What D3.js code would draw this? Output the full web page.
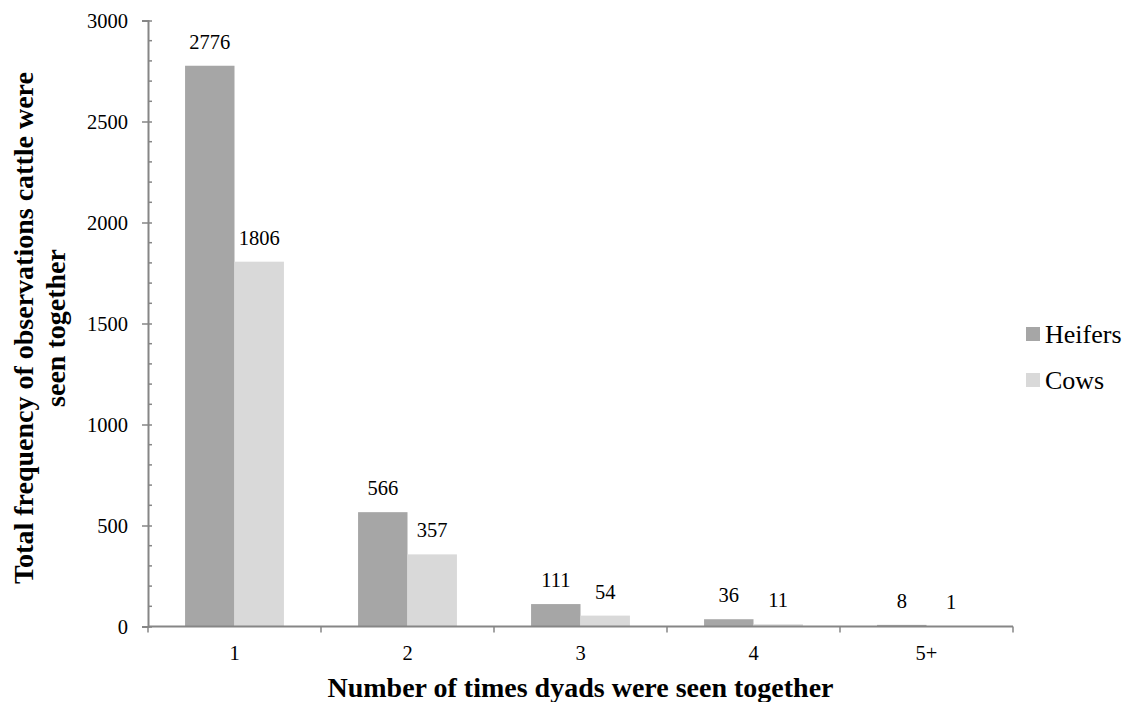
<!DOCTYPE html>
<html>
<head>
<meta charset="utf-8">
<script src="https://cdn.jsdelivr.net/npm/d3@7"></script>
<style>
  html, body { margin: 0; padding: 0; background: #fff; }
  svg text { font-family: "Liberation Serif", "Times New Roman", serif; }
</style>
</head>
<body>
<svg id="chart" width="1132" height="702"></svg>
<script>
const categories = ["1", "2", "3", "4", "5+"];
const seriesNames = ["Heifers", "Cows"];
const heifers = [2776, 566, 111, 36, 8];
const cows = [1806, 357, 54, 11, 1];
const yTicks = [0, 500, 1000, 1500, 2000, 2500, 3000];
const seriesColors = ["#a6a6a6", "#d9d9d9"];

(function () {
const FONT = "'Liberation Serif', 'Times New Roman', serif";
const seriesValues = [heifers, cows];
const svg = d3.select("#chart");
const plotLeft = 148, plotRight = 1013, plotTop = 20.5, plotBottom = 626.5;
const axisColor = "#868686";

const x0 = d3.scaleBand().domain(categories).range([plotLeft, plotRight]).padding(0);
const x1 = d3.scaleBand().domain(seriesNames).range([0, x0.bandwidth()])
  .paddingInner(0).paddingOuter(0.75);
const y = d3.scaleLinear().domain([0, 3000]).range([plotBottom, plotTop]);

// bars
const groups = svg.append("g").selectAll("g")
  .data(categories).join("g")
  .attr("transform", d => `translate(${x0(d)},0)`);

seriesNames.forEach((s, si) => {
  groups.append("rect")
    .attr("x", x1(s))
    .attr("width", x1.bandwidth())
    .attr("y", (d, i) => y(seriesValues[si][i]))
    .attr("height", (d, i) => plotBottom - y(seriesValues[si][i]))
    .attr("fill", seriesColors[si]);
  groups.append("text")
    .attr("x", x1(s) + x1.bandwidth() / 2)
    .attr("y", (d, i) => y(seriesValues[si][i]) - 17)
    .attr("text-anchor", "middle")
    .attr("font-family", FONT)
    .attr("font-size", 20.5)
    .attr("fill", "#000")
    .text((d, i) => seriesValues[si][i]);
});

// Y axis
const yAxis = svg.append("g").attr("transform", `translate(${plotLeft},0)`)
  .call(d3.axisLeft(y).tickValues(yTicks).tickFormat(d3.format("d")).tickSize(6).tickPadding(14));
yAxis.attr("font-family", FONT);
yAxis.select(".domain").attr("stroke", axisColor).attr("stroke-width", 2);
yAxis.selectAll(".tick line").attr("stroke", axisColor).attr("stroke-width", 1.5).attr("x2", -6).attr("x1", 4);
yAxis.selectAll(".tick text").attr("font-size", 20.5).attr("fill", "#000")
  .attr("font-family", FONT);
const minor = d3.range(0, 3001, 100).filter(v => v % 500 !== 0);
yAxis.selectAll(".minor").data(minor).join("line")
  .attr("class", "minor")
  .attr("x1", 0).attr("x2", 4)
  .attr("y1", d => y(d)).attr("y2", d => y(d))
  .attr("stroke", axisColor).attr("stroke-width", 1.5);

// X axis
const xg = svg.append("g");
xg.append("line").attr("x1", plotLeft).attr("x2", plotRight)
  .attr("y1", plotBottom).attr("y2", plotBottom)
  .attr("stroke", axisColor).attr("stroke-width", 2);
const boundaries = categories.map(c => x0(c)).concat([x0(categories[categories.length - 1]) + x0.bandwidth()]);
xg.selectAll(".xt").data(boundaries).join("line")
  .attr("class", "xt")
  .attr("x1", d => d).attr("x2", d => d)
  .attr("y1", plotBottom).attr("y2", plotBottom + 6)
  .attr("stroke", axisColor).attr("stroke-width", 1.5);
xg.selectAll(".xl").data(categories).join("text")
  .attr("class", "xl")
  .attr("x", d => x0(d) + x0.bandwidth() / 2)
  .attr("y", 660)
  .attr("text-anchor", "middle")
  .attr("font-family", FONT)
  .attr("font-size", 20.5)
  .text(d => d);

// Axis titles
svg.append("text")
  .attr("x", (plotLeft + plotRight) / 2).attr("y", 697)
  .attr("text-anchor", "middle")
  .attr("font-family", FONT)
  .attr("font-size", 28).attr("font-weight", "bold")
  .text("Number of times dyads were seen together");

const yt = svg.append("text")
  .attr("transform", "translate(33,328) rotate(-90)")
  .attr("text-anchor", "middle")
  .attr("font-family", FONT)
  .attr("font-size", 28).attr("font-weight", "bold");
yt.append("tspan").attr("x", 0).attr("y", 0).text("Total frequency of observations cattle were");
yt.append("tspan").attr("x", 0).attr("y", 32).text("seen together");

// Legend
const lg = svg.append("g");
seriesNames.forEach((s, i) => {
  const yy = 327 + i * 46;
  lg.append("rect").attr("x", 1026).attr("y", yy).attr("width", 14).attr("height", 14)
    .attr("fill", seriesColors[i]);
  lg.append("text").attr("x", 1045).attr("y", yy + 16)
    .attr("font-family", FONT)
    .attr("font-size", 26).text(s);
});
})();
</script>
</body>
</html>
